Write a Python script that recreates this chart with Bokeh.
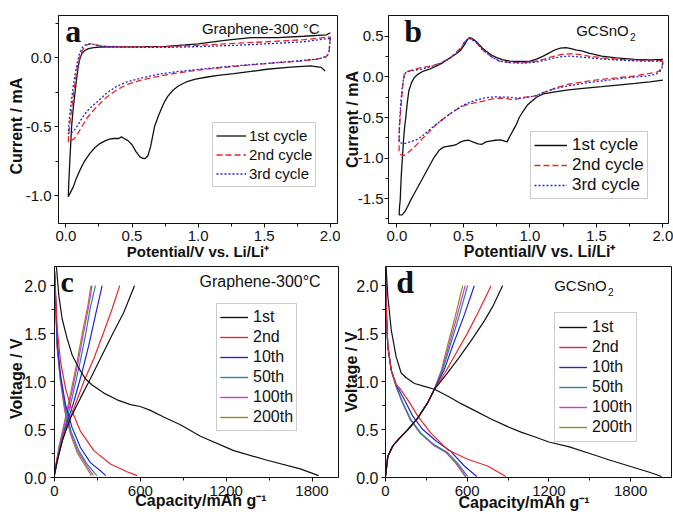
import math
from bokeh.plotting import figure
from bokeh.models import Range1d, FixedTicker, Label, Legend, LegendItem, PrintfTickFormatter
from bokeh.layouts import column, row
from bokeh.embed import file_html
from bokeh.resources import INLINE

# ---------------- data: panel a (Graphene-300 C, CV) ----------------
a_c1_v = [1.96,1.93,1.85,1.70,1.52,1.40,1.27,1.15,1.07,0.98,0.91,0.85,0.81,0.77,0.74,0.70,0.67,0.64,0.62,0.60,0.58,0.56,0.53,0.50,0.47,0.44,0.42,0.40,0.36,0.33,0.30,0.26,0.22,0.18,0.14,0.106,0.08,0.056,0.035,0.018,0.022,0.03,0.043,0.055,0.068,0.08,0.093,0.105,0.12,0.14,0.17,0.21,0.26,0.4,0.6,0.76,0.9,1.0,1.2,1.4,1.6,1.8,1.97,2.0]
a_c1_i = [-0.096,-0.07,-0.06,-0.068,-0.084,-0.10,-0.116,-0.128,-0.14,-0.155,-0.176,-0.205,-0.236,-0.28,-0.33,-0.42,-0.50,-0.646,-0.71,-0.73,-0.728,-0.718,-0.68,-0.63,-0.60,-0.585,-0.573,-0.585,-0.585,-0.59,-0.60,-0.62,-0.65,-0.694,-0.75,-0.814,-0.87,-0.935,-0.975,-1.007,-0.90,-0.74,-0.50,-0.37,-0.26,-0.16,-0.067,-0.01,0.029,0.05,0.065,0.073,0.077,0.078,0.08,0.082,0.092,0.10,0.125,0.145,0.145,0.155,0.165,0.18]
a_c2_v = [2.0,1.995,1.99,1.97,1.9,1.77,1.6,1.4,1.2,1.0,0.85,0.7,0.56,0.46,0.38,0.31,0.26,0.2,0.157,0.12,0.09,0.06,0.035,0.018,0.02,0.03,0.043,0.055,0.068,0.085,0.106,0.125,0.144,0.165,0.19,0.23,0.3,0.5,0.8,1.02,1.3,1.52,1.8,2.0]
a_c2_i = [0.15,0.10,0.04,0.008,-0.01,-0.025,-0.037,-0.052,-0.07,-0.09,-0.11,-0.135,-0.165,-0.195,-0.236,-0.285,-0.33,-0.39,-0.44,-0.50,-0.55,-0.59,-0.60,-0.61,-0.57,-0.48,-0.38,-0.28,-0.19,-0.08,0.005,0.055,0.08,0.095,0.10,0.092,0.082,0.077,0.08,0.09,0.105,0.115,0.13,0.15]
a_c3_v = [2.0,1.995,1.99,1.97,1.9,1.77,1.6,1.4,1.2,1.0,0.85,0.7,0.56,0.46,0.38,0.31,0.26,0.2,0.157,0.12,0.09,0.06,0.035,0.018,0.02,0.03,0.043,0.055,0.068,0.085,0.106,0.125,0.144,0.165,0.19,0.23,0.3,0.5,0.8,1.02,1.3,1.52,1.8,2.0]
a_c3_i = [0.14,0.09,0.035,0.006,-0.01,-0.022,-0.035,-0.05,-0.066,-0.085,-0.10,-0.12,-0.15,-0.175,-0.21,-0.255,-0.30,-0.35,-0.39,-0.44,-0.49,-0.53,-0.55,-0.55,-0.51,-0.40,-0.30,-0.21,-0.13,-0.04,0.04,0.075,0.09,0.10,0.10,0.09,0.08,0.075,0.075,0.08,0.09,0.10,0.115,0.14]

# ---------------- data: panel b (GCSnO2, CV) ----------------
b_c1_v = [2.0,1.9,1.79,1.66,1.54,1.4,1.29,1.2,1.1,1.05,1.02,0.98,0.95,0.92,0.9,0.88,0.86,0.84,0.83,0.81,0.78,0.74,0.70,0.67,0.64,0.61,0.57,0.54,0.51,0.48,0.45,0.42,0.38,0.35,0.32,0.28,0.24,0.20,0.16,0.13,0.10,0.08,0.06,0.04,0.017,0.02,0.025,0.032,0.04,0.05,0.058,0.067,0.078,0.09,0.11,0.13,0.16,0.20,0.25,0.30,0.35,0.40,0.44,0.48,0.51,0.53,0.55,0.57,0.60,0.64,0.67,0.71,0.75,0.80,0.85,0.93,1.0,1.05,1.1,1.15,1.19,1.23,1.27,1.31,1.35,1.39,1.45,1.54,1.65,1.79,1.9,2.0]
b_c1_i = [-0.04,-0.06,-0.08,-0.10,-0.12,-0.14,-0.16,-0.18,-0.21,-0.25,-0.29,-0.35,-0.42,-0.50,-0.58,-0.64,-0.70,-0.76,-0.80,-0.79,-0.775,-0.78,-0.79,-0.80,-0.83,-0.825,-0.80,-0.78,-0.785,-0.80,-0.83,-0.845,-0.855,-0.865,-0.90,-0.99,-1.11,-1.23,-1.35,-1.44,-1.53,-1.60,-1.66,-1.70,-1.70,-1.60,-1.52,-1.25,-1.03,-0.78,-0.62,-0.50,-0.32,-0.17,-0.07,-0.01,0.035,0.073,0.10,0.135,0.18,0.237,0.28,0.33,0.40,0.46,0.485,0.47,0.43,0.36,0.32,0.27,0.237,0.21,0.196,0.19,0.196,0.22,0.257,0.30,0.335,0.355,0.36,0.35,0.33,0.32,0.29,0.257,0.235,0.216,0.21,0.216]
b_c2_v = [2.0,1.995,1.99,1.97,1.94,1.85,1.79,1.66,1.54,1.4,1.29,1.2,1.14,1.09,1.05,1.0,0.95,0.91,0.87,0.82,0.77,0.72,0.67,0.61,0.55,0.49,0.43,0.37,0.30,0.24,0.18,0.14,0.10,0.07,0.05,0.03,0.017,0.017,0.017,0.025,0.035,0.045,0.055,0.07,0.09,0.13,0.18,0.24,0.30,0.35,0.40,0.44,0.48,0.51,0.54,0.56,0.60,0.64,0.67,0.72,0.77,0.85,0.95,1.03,1.1,1.17,1.24,1.32,1.38,1.44,1.55,1.67,1.85,2.0]
b_c2_i = [0.20,0.15,0.11,0.07,0.053,0.03,0.012,-0.01,-0.03,-0.06,-0.09,-0.13,-0.17,-0.20,-0.23,-0.245,-0.25,-0.27,-0.28,-0.265,-0.26,-0.27,-0.29,-0.31,-0.33,-0.365,-0.42,-0.49,-0.58,-0.68,-0.78,-0.85,-0.91,-0.95,-0.97,-0.96,-0.93,-0.80,-0.70,-0.50,-0.29,-0.10,0.033,0.06,0.073,0.095,0.114,0.13,0.155,0.19,0.237,0.29,0.36,0.43,0.48,0.47,0.42,0.34,0.30,0.24,0.196,0.18,0.176,0.19,0.216,0.25,0.278,0.286,0.275,0.257,0.235,0.216,0.205,0.20]
b_c3_v = [2.0,1.995,1.98,1.95,1.88,1.79,1.66,1.54,1.4,1.29,1.2,1.14,1.09,1.05,1.0,0.95,0.90,0.85,0.80,0.75,0.70,0.67,0.61,0.55,0.49,0.43,0.37,0.30,0.24,0.18,0.14,0.10,0.07,0.04,0.017,0.018,0.022,0.03,0.04,0.05,0.067,0.1,0.18,0.24,0.30,0.35,0.40,0.44,0.48,0.51,0.54,0.56,0.60,0.64,0.67,0.72,0.77,0.85,0.95,1.03,1.1,1.17,1.24,1.29,1.35,1.44,1.55,1.7,1.85,2.0]
b_c3_i = [0.175,0.12,0.07,0.035,0.01,0.0,-0.025,-0.05,-0.08,-0.11,-0.14,-0.17,-0.20,-0.23,-0.245,-0.26,-0.26,-0.25,-0.25,-0.245,-0.25,-0.255,-0.28,-0.31,-0.355,-0.42,-0.49,-0.58,-0.66,-0.74,-0.78,-0.80,-0.815,-0.82,-0.80,-0.65,-0.50,-0.30,-0.13,-0.02,0.053,0.075,0.094,0.12,0.147,0.185,0.23,0.28,0.35,0.43,0.475,0.465,0.42,0.34,0.30,0.24,0.196,0.175,0.17,0.18,0.20,0.23,0.25,0.257,0.25,0.237,0.22,0.205,0.195,0.196]

# ---------------- data: panel c (Graphene-300 C, charge/discharge) ----------------
c_1st_dis_q = [8,14,30,54,88,123,170,216,263,345,438,531,600,670,763,880,1020,1253,1486,1718,1846]
c_1st_dis_u = [2.3,2.19,1.90,1.65,1.45,1.28,1.14,1.03,0.965,0.88,0.81,0.76,0.74,0.70,0.63,0.55,0.43,0.28,0.18,0.09,0.02]
c_1st_chg_q = [0,19,54,112,182,251,321,414,484,559]
c_1st_chg_u = [0.03,0.17,0.38,0.62,0.83,1.03,1.24,1.52,1.72,2.0]
c_2nd_dis_q = [0,5,19,42,77,123,182,275,391,507,578]
c_2nd_dis_u = [2.15,2.0,1.55,1.21,0.93,0.69,0.48,0.28,0.14,0.06,0.02]
c_2nd_chg_q = [0,19,65,135,205,275,345,403,456]
c_2nd_chg_u = [0.07,0.2,0.45,0.72,1.0,1.24,1.52,1.76,2.0]
c_10th_dis_q = [0,5,19,42,77,123,182,251,321,358]
c_10th_dis_u = [2.15,2.0,1.41,1.07,0.76,0.52,0.31,0.155,0.07,0.02]
c_10th_chg_q = [0,30,77,135,193,240,286,333]
c_10th_chg_u = [0.03,0.24,0.52,0.79,1.10,1.38,1.69,2.0]
c_50th_dis_q = [0,5,19,42,77,116,170,228,296]
c_50th_dis_u = [2.15,1.96,1.38,1.03,0.72,0.48,0.28,0.14,0.02]
c_50th_chg_q = [0,30,77,123,170,216,249,286]
c_50th_chg_u = [0.03,0.28,0.55,0.83,1.14,1.48,1.76,2.0]
c_100th_dis_q = [0,5,19,42,74,114,164,222,272]
c_100th_dis_u = [2.15,1.96,1.36,1.01,0.70,0.46,0.27,0.13,0.02]
c_100th_chg_q = [0,30,72,120,163,206,238,262]
c_100th_chg_u = [0.03,0.30,0.57,0.88,1.19,1.53,1.78,2.0]
c_200th_dis_q = [0,5,19,42,72,112,158,216,258]
c_200th_dis_u = [2.15,1.96,1.34,1.0,0.69,0.45,0.26,0.12,0.02]
c_200th_chg_q = [0,30,70,116,158,200,233,255]
c_200th_chg_u = [0.03,0.31,0.58,0.90,1.21,1.55,1.79,2.0]

# ---------------- data: panel d (GCSnO2, charge/discharge) ----------------
d_1st_dis_q = [0,5,17,42,78,115,152,213,286,359,456,555,652,775,897,1000,1104,1200,1350,1500,1650,1800,1950,2027]
d_1st_dis_u = [2.3,2.18,1.89,1.54,1.26,1.09,1.04,0.98,0.95,0.92,0.85,0.77,0.70,0.61,0.53,0.47,0.42,0.37,0.32,0.25,0.18,0.115,0.05,0.01]
d_1st_chg_q = [0,17,54,103,164,237,310,359,450,540,630,720,790,860]
d_1st_chg_u = [0.01,0.22,0.33,0.41,0.50,0.62,0.78,0.92,1.08,1.25,1.43,1.62,1.79,2.0]
d_2nd_dis_q = [0,5,17,42,78,115,164,237,335,456,603,750,884]
d_2nd_dis_u = [2.2,1.8,1.37,1.12,0.97,0.91,0.81,0.64,0.46,0.29,0.19,0.12,0.01]
d_2nd_chg_q = [0,17,54,103,164,237,310,359,440,520,600,690,775]
d_2nd_chg_u = [0.01,0.22,0.33,0.41,0.50,0.62,0.78,0.92,1.10,1.30,1.50,1.75,2.0]
d_10th_dis_q = [0,5,17,42,78,139,200,274,372,481,579,670]
d_10th_dis_u = [2.2,1.8,1.37,1.12,0.97,0.81,0.64,0.50,0.38,0.27,0.12,0.01]
d_10th_chg_q = [0,17,54,103,164,237,310,359,430,500,575,652]
d_10th_chg_u = [0.01,0.22,0.33,0.41,0.50,0.62,0.78,0.92,1.12,1.40,1.68,2.0]
d_50th_dis_q = [0,5,17,42,78,127,188,261,359,456,530,604]
d_50th_dis_u = [2.2,1.71,1.37,1.12,0.95,0.78,0.60,0.46,0.34,0.26,0.15,0.01]
d_50th_chg_q = [0,17,54,103,164,237,310,359,420,480,540,603]
d_50th_chg_u = [0.01,0.22,0.33,0.41,0.50,0.62,0.78,0.92,1.12,1.40,1.68,2.0]
d_100th_dis_q = [0,5,17,42,78,125,185,257,352,447,520,590]
d_100th_dis_u = [2.2,1.71,1.37,1.12,0.95,0.78,0.60,0.46,0.34,0.26,0.15,0.01]
d_100th_chg_q = [0,17,54,103,164,237,310,359,415,470,525,585]
d_100th_chg_u = [0.01,0.22,0.33,0.41,0.50,0.62,0.78,0.92,1.12,1.40,1.68,2.0]
d_200th_dis_q = [0,5,17,42,78,124,183,255,350,444,515,586]
d_200th_dis_u = [2.2,1.71,1.37,1.12,0.95,0.78,0.60,0.46,0.34,0.26,0.15,0.01]
d_200th_chg_q = [0,17,54,103,164,237,310,359,410,460,512,567]
d_200th_chg_u = [0.01,0.22,0.33,0.41,0.50,0.62,0.78,0.92,1.12,1.40,1.68,2.0]

# ---------------- labels / ticks ----------------
cv_names = ["1st cycle", "2nd cycle", "3rd cycle"]
gc_names = ["1st", "2nd", "10th", "50th", "100th", "200th"]
cv_x_ticks = [0.0, 0.5, 1.0, 1.5, 2.0]
cv_x_minor = [0.25, 0.75, 1.25, 1.75]
a_y_ticks = [-1.0, -0.5, 0.0]
a_y_minor = [-0.75, -0.25, 0.25]
b_y_ticks = [-1.5, -1.0, -0.5, 0.0, 0.5]
b_y_minor = [-1.75, -1.25, -0.75, -0.25, 0.25]
gc_x_ticks = [0, 600, 1200, 1800]
gc_x_minor = [300, 900, 1500]
gc_y_ticks = [0.0, 0.5, 1.0, 1.5, 2.0]
gc_y_minor = [0.25, 0.75, 1.25, 1.75]

NB = "\u00a0"
cv_xlabel = "Potential/V vs. Li/Li\u207a"
cv_ylabel = "Current / mA"
gc_xlabel = "Capacity/mAh g\u207b\u00b9"
gc_ylabel = "Voltage / V"

GC_COLORS = ["#111111", "#e8262a", "#2323d6", "#1f8c8c", "#e02ee0", "#8c8c1c"]
SANS = "Liberation Sans"
SERIF = "Liberation Serif"


def make_fig(w, h, xr, yr, bl, br, bt, bb, xt, xm, yt, ym, xfmt, yfmt,
             xlab, ylab, xlab_size, xtick_standoff, xlab_standoff,
             ytick_size, ytick_standoff, ylab_standoff):
    p = figure(width=w, height=h, x_range=Range1d(*xr), y_range=Range1d(*yr),
               output_backend="svg", toolbar_location=None,
               min_border_left=bl, min_border_right=br, min_border_top=bt, min_border_bottom=bb)
    p.grid.visible = False
    p.outline_line_color = "#111111"
    p.outline_line_width = 1
    p.outline_line_alpha = 1
    p.background_fill_color = "white"
    p.border_fill_color = "white"
    p.xaxis.ticker = FixedTicker(ticks=xt, minor_ticks=xm)
    p.yaxis.ticker = FixedTicker(ticks=yt, minor_ticks=ym)
    p.xaxis.formatter = PrintfTickFormatter(format=xfmt)
    p.yaxis.formatter = PrintfTickFormatter(format=yfmt)
    for ax in (p.xaxis[0], p.yaxis[0]):
        ax.axis_line_color = "#111111"
        ax.major_tick_line_color = "#111111"
        ax.minor_tick_line_color = "#111111"
        ax.major_tick_in = 0
        ax.major_tick_out = 4
        ax.minor_tick_in = 0
        ax.minor_tick_out = 3
        ax.major_label_text_font = SANS
        ax.major_label_text_color = "#111111"
        ax.axis_label_text_font = SANS
        ax.axis_label_text_font_style = "bold"
        ax.axis_label_text_color = "#111111"
    p.xaxis.major_label_text_font_size = "15px"
    p.yaxis.major_label_text_font_size = f"{ytick_size}px"
    p.xaxis.major_label_standoff = xtick_standoff
    p.yaxis.major_label_standoff = ytick_standoff
    p.xaxis.axis_label = xlab
    p.yaxis.axis_label = ylab
    p.xaxis.axis_label_text_font_size = f"{xlab_size}px"
    p.yaxis.axis_label_text_font_size = "16px"
    p.xaxis.axis_label_standoff = xlab_standoff
    p.yaxis.axis_label_standoff = ylab_standoff
    return p


def txt(p, text, x, y, size, style="normal", font=SANS):
    p.add_layout(Label(x=x, y=y + 0.34 * size, x_units="screen", y_units="screen", text=text,
                       text_font=font, text_font_size=f"{size}px", text_font_style=style,
                       text_color="#111111", text_align="left", text_baseline="alphabetic"))


def add_legend(p, items, loc, pad, row_h, gw, standoff, fsize):
    leg = Legend(items=items, location=loc)
    leg.margin = 0
    leg.padding = pad
    leg.spacing = 0
    leg.label_height = row_h
    leg.glyph_height = row_h
    leg.glyph_width = gw
    leg.label_standoff = standoff
    leg.border_line_color = "#9a9a9a"
    leg.border_line_width = 1
    leg.background_fill_color = "white"
    leg.background_fill_alpha = 1
    leg.label_text_font = SANS
    leg.label_text_font_size = f"{fsize}px"
    leg.label_text_color = "#111111"
    p.add_layout(leg)


# ---------------- panel a ----------------
pa = make_fig(340, 262, (-0.056, 2.054), (-1.2, 0.305), 58, 3, 15, 39,
              cv_x_ticks, cv_x_minor, a_y_ticks, a_y_minor, "%.1f", "%.1f",
              cv_xlabel, cv_ylabel + NB * 3, 15, 3, -1, 15, 3, -2)
ra1 = pa.line(a_c1_v, a_c1_i, line_color="#111111", line_width=1.3)
ra2 = pa.line(a_c2_v, a_c2_i, line_color="#e8262a", line_width=1.3, line_dash="6 3")
ra3 = pa.line(a_c3_v, a_c3_i, line_color="#2323d6", line_width=1.3, line_dash="2 2")
add_legend(pa, [LegendItem(label=cv_names[0], renderers=[ra1]),
                LegendItem(label=cv_names[1], renderers=[ra2]),
                LegendItem(label=cv_names[2], renderers=[ra3])],
           (154, 36), 3, 19, 30, 3, 15)
txt(pa, "a", 6.7, 181.6, 32, "bold", SERIF)
txt(pa, "Graphene-300 \u00b0C", 143.4, 190.3, 15)

# ---------------- panel b ----------------
pb = make_fig(333, 262, (-0.063, 2.042), (-1.806, 0.757), 47, 5, 14, 39,
              cv_x_ticks, cv_x_minor, b_y_ticks, b_y_minor, "%.1f", "%.1f",
              NB * 5 + cv_xlabel, cv_ylabel, 16, 3, -1, 15, 1, -6)
rb1 = pb.line(b_c1_v, b_c1_i, line_color="#111111", line_width=1.3)
rb2 = pb.line(b_c2_v, b_c2_i, line_color="#e8262a", line_width=1.3, line_dash="6 3")
rb3 = pb.line(b_c3_v, b_c3_i, line_color="#2323d6", line_width=1.3, line_dash="2 2")
add_legend(pb, [LegendItem(label=cv_names[0], renderers=[rb1]),
                LegendItem(label=cv_names[1], renderers=[rb2]),
                LegendItem(label=cv_names[2], renderers=[rb3])],
           (142, 24), 3, 20, 33, 5, 17)
txt(pb, "b", 15.7, 181.6, 32, "bold", SERIF)
txt(pb, "GCSnO", 187.7, 187.6, 15)
txt(pb, "2", 241.5, 183.5, 10)

# ---------------- panel c ----------------
pc = make_fig(340, 252, (0, 1985), (0, 2.2), 54, 2, 4, 35,
              gc_x_ticks, gc_x_minor, gc_y_ticks, gc_y_minor, "%.0f", "%.1f",
              NB * 2 + gc_xlabel, gc_ylabel + NB * 3, 16, 4, -7, 16, 4, -4)
c_series = [
    (c_1st_dis_q, c_1st_dis_u, c_1st_chg_q, c_1st_chg_u),
    (c_2nd_dis_q, c_2nd_dis_u, c_2nd_chg_q, c_2nd_chg_u),
    (c_10th_dis_q, c_10th_dis_u, c_10th_chg_q, c_10th_chg_u),
    (c_50th_dis_q, c_50th_dis_u, c_50th_chg_q, c_50th_chg_u),
    (c_100th_dis_q, c_100th_dis_u, c_100th_chg_q, c_100th_chg_u),
    (c_200th_dis_q, c_200th_dis_u, c_200th_chg_q, c_200th_chg_u),
]
c_items = []
for k in range(len(c_series) - 1, -1, -1):
    dq, du, cq, cu = c_series[k]
    r1 = pc.line(dq, du, line_color=GC_COLORS[k], line_width=1.2)
    r2 = pc.line(cq, cu, line_color=GC_COLORS[k], line_width=1.2)
    c_items.insert(0, LegendItem(label=gc_names[k], renderers=[r1, r2]))
add_legend(pc, c_items, (162, 46), 3, 20, 28, 5, 16)
txt(pc, "c", 6, 186.2, 30, "bold", SERIF)
txt(pc, "Graphene-300\u00b0C", 145, 190.4, 16)

# ---------------- panel d ----------------
pd_ = make_fig(333, 252, (0, 2100), (0, 2.2), 44, 2, 3, 37,
               gc_x_ticks, gc_x_minor, gc_y_ticks, gc_y_minor, "%.0f", "%.1f",
               gc_xlabel + NB * 2, gc_ylabel, 16, 4, -5, 16, 3, -7)
d_series = [
    (d_1st_dis_q, d_1st_dis_u, d_1st_chg_q, d_1st_chg_u),
    (d_2nd_dis_q, d_2nd_dis_u, d_2nd_chg_q, d_2nd_chg_u),
    (d_10th_dis_q, d_10th_dis_u, d_10th_chg_q, d_10th_chg_u),
    (d_50th_dis_q, d_50th_dis_u, d_50th_chg_q, d_50th_chg_u),
    (d_100th_dis_q, d_100th_dis_u, d_100th_chg_q, d_100th_chg_u),
    (d_200th_dis_q, d_200th_dis_u, d_200th_chg_q, d_200th_chg_u),
]
d_items = []
for k in range(len(d_series) - 1, -1, -1):
    dq, du, cq, cu = d_series[k]
    r1 = pd_.line(dq, du, line_color=GC_COLORS[k], line_width=1.2)
    r2 = pd_.line(cq, cu, line_color=GC_COLORS[k], line_width=1.2)
    d_items.insert(0, LegendItem(label=gc_names[k], renderers=[r1, r2]))
add_legend(pd_, d_items, (169, 35), 4, 20, 28, 5, 16)
txt(pd_, "d", 10.7, 185, 32, "bold", SERIF)
txt(pd_, "GCSnO", 168.7, 186.7, 15)
txt(pd_, "2", 222.5, 182.5, 10)

layout = column(row(pa, pb), row(pc, pd_))
open("out.html", "w").write(file_html(layout, INLINE))
